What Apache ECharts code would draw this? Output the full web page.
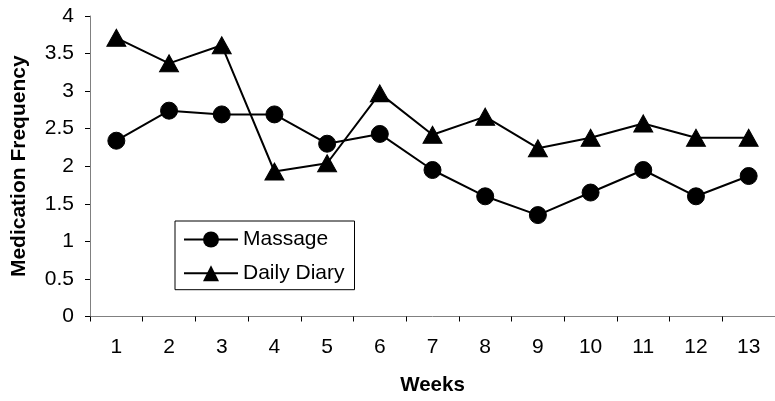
<!DOCTYPE html>
<html>
<head>
<meta charset="utf-8">
<script src="https://cdn.jsdelivr.net/npm/echarts@6/dist/echarts.min.js"></script>
<style>
  html, body { margin: 0; padding: 0; background: #fff; }
  #chart { width: 775px; height: 401px; }
</style>
</head>
<body>
<div id="chart"></div>
<script>
// Weekly medication frequency for the two study groups
const weeks = ['1', '2', '3', '4', '5', '6', '7', '8', '9', '10', '11', '12', '13'];
const massage = [2.34, 2.74, 2.69, 2.69, 2.30, 2.43, 1.95, 1.60, 1.35, 1.65, 1.95, 1.60, 1.87];
const dailyDiary = [3.71, 3.37, 3.61, 1.93, 2.04, 2.97, 2.42, 2.66, 2.24, 2.38, 2.57, 2.38, 2.38];
const yTicks = { min: 0, max: 4, step: 0.5 };

const FONT = '"Liberation Sans", Arial, Helvetica, sans-serif';

const chart = echarts.init(document.getElementById('chart'), null, { renderer: 'canvas' });

chart.setOption({
  backgroundColor: '#ffffff',
  animation: false,
  textStyle: { fontFamily: FONT, color: '#000' },
  grid: { left: 90, top: 16, width: 693, height: 301.3, containLabel: false },
  legend: {
    orient: 'vertical',
    left: 175,
    top: 221,
    padding: [8, 10, 6, 8],
    itemWidth: 54,
    itemHeight: 20,
    itemGap: 12.7,
    borderColor: '#000',
    borderWidth: 1,
    backgroundColor: '#fff',
    textStyle: { fontFamily: FONT, fontSize: 21, lineHeight: 20, color: '#000' },
    data: ['Massage', 'Daily Diary']
  },
  xAxis: {
    type: 'category',
    data: weeks,
    boundaryGap: true,
    name: 'Weeks',
    nameLocation: 'middle',
    nameGap: 58.5,
    nameTextStyle: { fontFamily: FONT, fontSize: 20.5, fontWeight: 'bold', color: '#000' },
    axisLine: { lineStyle: { color: '#808080', width: 1 } },
    axisTick: { show: true, length: 5, inside: false, lineStyle: { color: '#000' } },
    axisLabel: { margin: 20, fontFamily: FONT, fontSize: 21, color: '#000' },
    splitLine: { show: false }
  },
  yAxis: {
    type: 'value',
    min: yTicks.min,
    max: yTicks.max,
    interval: yTicks.step,
    name: 'Medication Frequency',
    nameLocation: 'middle',
    nameGap: 60,
    nameTextStyle: { fontFamily: FONT, fontSize: 21, fontWeight: 'bold', color: '#000' },
    axisLine: { show: true, lineStyle: { color: '#808080', width: 1 } },
    axisTick: { show: true, length: 5, inside: false, lineStyle: { color: '#000' } },
    axisLabel: { margin: 16, fontFamily: FONT, fontSize: 21, color: '#000' },
    splitLine: { show: false }
  },
  series: [
    {
      name: 'Massage',
      type: 'line',
      data: massage,
      symbol: 'circle',
      symbolSize: 17,
      showAllSymbol: true,
      lineStyle: { color: '#000', width: 2 },
      itemStyle: { color: '#000', borderColor: '#000' },
      z: 2
    },
    {
      name: 'Daily Diary',
      type: 'line',
      data: dailyDiary,
      symbol: 'triangle',
      symbolSize: [19, 17],
      showAllSymbol: true,
      lineStyle: { color: '#000', width: 2 },
      itemStyle: { color: '#000', borderColor: '#000' },
      z: 3
    }
  ]
});
</script>
</body>
</html>
